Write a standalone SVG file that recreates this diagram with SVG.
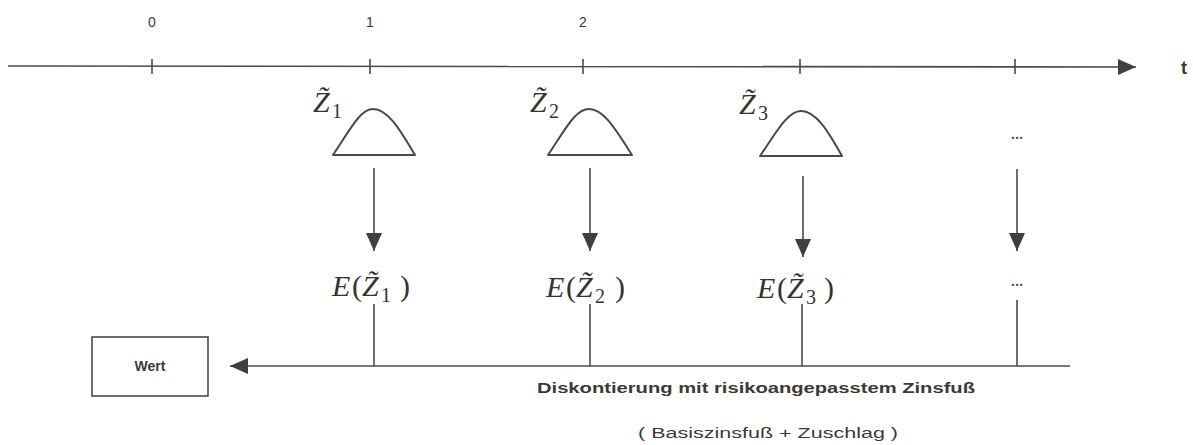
<svg xmlns="http://www.w3.org/2000/svg" width="1193" height="445" viewBox="0 0 1193 445">
<defs>
<marker id="ah" markerUnits="userSpaceOnUse" markerWidth="18" markerHeight="16" refX="18" refY="8" orient="auto">
<path d="M0,0 L18,8 L0,16 z" fill="#3f3f3f"/>
</marker>
<style>
.ln{stroke:#4a4a4a;stroke-width:1.6;fill:none}
.bell{stroke:#4a4a4a;stroke-width:2;fill:none;stroke-linejoin:round}
.lbl{font-family:"Liberation Sans",Arial,sans-serif;font-size:14px;fill:#3a3a3a}
.bold{font-family:"Liberation Sans",Arial,sans-serif;font-weight:bold;fill:#3a3a3a}
.m{font-family:"Liberation Serif","Times New Roman","DejaVu Serif",serif;font-size:30px;fill:#333}
.mi{font-style:italic}
.sub{font-size:20px;font-style:normal}
.dots{font-family:"Liberation Sans",Arial,sans-serif;font-size:15px;font-weight:bold;fill:#555}
</style>
</defs>
<rect width="1193" height="445" fill="#fff"/>
<g id="connectors">
<line class="ln" x1="8" y1="66" x2="1136" y2="67" marker-end="url(#ah)"/>
<line class="ln" x1="152" y1="59" x2="152" y2="74"/>
<line class="ln" x1="370" y1="59" x2="370" y2="74"/>
<line class="ln" x1="583" y1="59" x2="583" y2="74"/>
<line class="ln" x1="800" y1="59" x2="800" y2="74"/>
<line class="ln" x1="1015" y1="59" x2="1015" y2="74"/>
<line class="ln" x1="374" y1="168" x2="374" y2="251" marker-end="url(#ah)"/>
<line class="ln" x1="590" y1="168" x2="590" y2="251" marker-end="url(#ah)"/>
<line class="ln" x1="803" y1="176" x2="803" y2="257" marker-end="url(#ah)"/>
<line class="ln" x1="1017" y1="169" x2="1017" y2="251" marker-end="url(#ah)"/>
<line class="ln" x1="374" y1="304" x2="374" y2="366"/>
<line class="ln" x1="590" y1="304" x2="590" y2="366"/>
<line class="ln" x1="802" y1="304" x2="802" y2="366"/>
<line class="ln" x1="1017" y1="300" x2="1017" y2="366"/>
<line class="ln" x1="1070" y1="366" x2="230" y2="366" marker-end="url(#ah)"/>
</g>
<g id="axis-labels">
<text class="lbl" x="152" y="27" text-anchor="middle">0</text>
<text class="lbl" x="370" y="27" text-anchor="middle">1</text>
<text class="lbl" x="583" y="27" text-anchor="middle">2</text>
<text class="bold" x="1184" y="74" font-size="18" text-anchor="middle">t</text>
</g>
<g id="z1">
<text class="m" y="112"><tspan class="mi" x="313">Z&#x303;</tspan><tspan class="sub" x="332" dy="6">1</tspan></text>
<path class="bell" d="M333,155 C350,130 360,109 373,109 C388,109 400,130 415,155 Z"/>
</g>
<g id="z2">
<text class="m" y="112"><tspan class="mi" x="530">Z&#x303;</tspan><tspan class="sub" x="549" dy="6">2</tspan></text>
<path class="bell" d="M548,155 C565,130 575,109 589,109 C604,109 616,130 632,155 Z"/>
</g>
<g id="z3">
<text class="m" y="114"><tspan class="mi" x="739">Z&#x303;</tspan><tspan class="sub" x="758" dy="6">3</tspan></text>
<path class="bell" d="M760,156 C777,131 788,111 801,111 C816,111 828,131 842,156 Z"/>
</g>
<g id="dots-top">
<text class="dots" x="1017" y="139" text-anchor="middle">...</text>
</g>
<g id="e1">
<text class="m" y="296"><tspan class="mi" x="332">E</tspan><tspan x="352">(</tspan><tspan class="mi" x="362">Z&#x303;</tspan><tspan class="sub" x="381" dy="6">1</tspan><tspan x="400" dy="-6">)</tspan></text>
</g>
<g id="e2">
<text class="m" y="297"><tspan class="mi" x="546">E</tspan><tspan x="566">(</tspan><tspan class="mi" x="576">Z&#x303;</tspan><tspan class="sub" x="595" dy="6">2</tspan><tspan x="615" dy="-6">)</tspan></text>
</g>
<g id="e3">
<text class="m" y="298"><tspan class="mi" x="757">E</tspan><tspan x="777">(</tspan><tspan class="mi" x="787">Z&#x303;</tspan><tspan class="sub" x="806" dy="6">3</tspan><tspan x="824" dy="-6">)</tspan></text>
</g>
<g id="dots-bottom">
<text class="dots" x="1017" y="286" text-anchor="middle">...</text>
</g>
<g id="wert">
<rect x="92" y="337" width="116" height="59" fill="none" stroke="#4a4a4a" stroke-width="1.6"/>
<text class="bold" x="150" y="371" font-size="14" text-anchor="middle">Wert</text>
</g>
<g id="discount-label">
<text class="bold" x="537" y="393" font-size="14" textLength="438" lengthAdjust="spacingAndGlyphs">Diskontierung mit risikoangepasstem Zinsfuß</text>
<text class="lbl" x="638" y="438" font-size="13" textLength="260" lengthAdjust="spacingAndGlyphs">( Basiszinsfuß + Zuschlag )</text>
</g>
</svg>
